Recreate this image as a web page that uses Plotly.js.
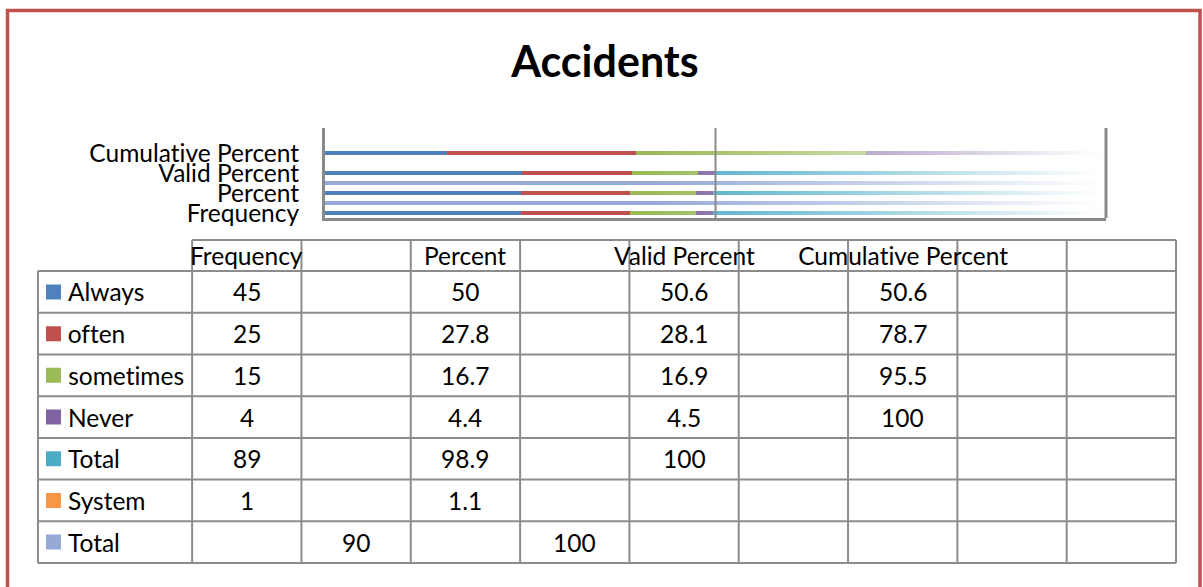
<!DOCTYPE html>
<html>
<head>
<meta charset="utf-8">
<script src="https://cdn.plot.ly/plotly-3.0.1.min.js"></script>
<style>html,body{margin:0;padding:0;background:#fff;}#chart{width:1203px;height:587px;}
#chart text{font-variant-ligatures:none;font-feature-settings:"liga" 0;}</style>
</head>
<body>
<div id="chart"></div>
<script>
// ---- data ----
const chartTitle = 'Accidents';
const categories = ['Frequency', '', 'Percent', '', 'Valid Percent', '', 'Cumulative Percent', '', ''];
const seriesNames = ['Always', 'often', 'sometimes', 'Never', 'Total', 'System', 'Total'];
const always    = [45, null, 50,   null, 50.6, null, 50.6, null, null];
const often     = [25, null, 27.8, null, 28.1, null, 78.7, null, null];
const sometimes = [15, null, 16.7, null, 16.9, null, 95.5, null, null];
const never     = [4,  null, 4.4,  null, 4.5,  null, 100,  null, null];
const total     = [89, null, 98.9, null, 100,  null, null, null, null];
const system    = [1,  null, 1.1,  null, null, null, null, null, null];
const grandTotal= [null, 90, null, 100,  null, null, null, null, null];
const seriesValues = [always, often, sometimes, never, total, system, grandTotal];

// ---- styles ----
const colors = ['#4F81BD', '#C0504D', '#9BBB59', '#8064A2', '#4BACC6', '#F79646', '#95ABD6'];
const FONT = 'Lato, "Liberation Sans", Arial, sans-serif';
const FS = 24.5;
const gridCol = '#8C8C8C';

const idx = categories.map((_, i) => i);
const traces = seriesValues.map((vals, s) => ({
  type: 'bar', orientation: 'h',
  x: vals, y: idx, name: seriesNames[s],
  marker: {color: colors[s], line: {width: 0}},
  width: 0.36, hoverinfo: 'skip', showlegend: false,
  xaxis: 'x', yaxis: 'y'
}));

const tickIdx = idx.filter(i => categories[i] !== '');
const shapes = [];
const annotations = [];

// fade-out overlay for bars (Excel gradient look)
const svg = "<svg xmlns='http://www.w3.org/2000/svg' viewBox='0 0 100 10' width='100' height='10' preserveAspectRatio='none'>" +
  "<defs><linearGradient id='g' x1='0' x2='1' y1='0' y2='0'>" +
  "<stop offset='0' stop-color='white' stop-opacity='0'/>" +
  "<stop offset='0.42' stop-color='white' stop-opacity='0'/>" +
  "<stop offset='0.72' stop-color='white' stop-opacity='0.5'/>" +
  "<stop offset='0.97' stop-color='white' stop-opacity='0.96'/>" +
  "<stop offset='1' stop-color='white' stop-opacity='1'/>" +
  "</linearGradient></defs><rect x='0' y='0' width='100' height='10' fill='url(#g)'/></svg>";
const images = [{
  source: 'data:image/svg+xml;charset=utf-8,' + encodeURIComponent(svg),
  xref: 'x', yref: 'y', x: 0, y: categories.length - 0.5,
  sizex: 100, sizey: categories.length, xanchor: 'left', yanchor: 'top',
  sizing: 'stretch', layer: 'above'
}];

// mid gridline (50%) and right wall above fade
shapes.push({type: 'line', xref: 'x', yref: 'y', x0: 50, x1: 50, y0: -0.5, y1: categories.length - 0.5,
  line: {color: '#8A8A8A', width: 2}, layer: 'above'});
shapes.push({type: 'line', xref: 'x domain', yref: 'y domain', x0: 1, x1: 1, y0: 0, y1: 1,
  line: {color: '#8A8A8A', width: 3}, layer: 'above'});

// ---- data table ----
const nCols = categories.length;
const nRows = seriesNames.length;
const H = -0.745; // header top (row units)
const RH = -1.41; // row header left (column units)
for (let c = 0; c <= nCols; c++) {
  shapes.push({type: 'line', xref: 'x2', yref: 'y2', x0: c, x1: c, y0: H, y1: nRows,
    line: {color: gridCol, width: 2}, layer: 'above'});
}
shapes.push({type: 'line', xref: 'x2', yref: 'y2', x0: RH, x1: RH, y0: 0, y1: nRows,
  line: {color: gridCol, width: 2}, layer: 'above'});
shapes.push({type: 'line', xref: 'x2', yref: 'y2', x0: 0, x1: nCols, y0: H, y1: H,
  line: {color: gridCol, width: 2}, layer: 'above'});
for (let r = 0; r <= nRows; r++) {
  shapes.push({type: 'line', xref: 'x2', yref: 'y2', x0: RH, x1: nCols, y0: r, y1: r,
    line: {color: gridCol, width: 2}, layer: 'above'});
}
categories.forEach((cat, c) => {
  if (cat) annotations.push({xref: 'x2', yref: 'y2', x: c + 0.5, y: H / 2, text: cat, showarrow: false,
    xanchor: 'center', yanchor: 'middle', font: {family: FONT, size: FS, color: '#000'}});
});
seriesNames.forEach((name, r) => {
  shapes.push({type: 'rect', xref: 'x2', yref: 'y2', xsizemode: 'pixel', ysizemode: 'pixel',
    xanchor: RH, yanchor: r + 0.5, x0: 8, x1: 23, y0: -7.5, y1: 7.5,
    fillcolor: colors[r], line: {width: 0}, layer: 'above'});
  annotations.push({xref: 'x2', yref: 'y2', x: RH, xshift: 28, y: r + 0.5, text: name, showarrow: false,
    xanchor: 'left', yanchor: 'middle', font: {family: FONT, size: FS, color: '#000'}});
  seriesValues[r].forEach((v, c) => {
    if (v !== null) annotations.push({xref: 'x2', yref: 'y2', x: c + 0.5, y: r + 0.5, text: String(v),
      showarrow: false, xanchor: 'center', yanchor: 'middle', font: {family: FONT, size: FS, color: '#000'}});
  });
});

// outer border
shapes.push({type: 'rect', xref: 'paper', yref: 'paper', x0: 7.5 / 1203, x1: 1200 / 1203, y0: -0.05, y1: 1 - 10.5 / 587,
  line: {color: '#C0504D', width: 3.5}, fillcolor: 'rgba(0,0,0,0)', layer: 'above'});

const layout = {
  width: 1203, height: 587,
  margin: {l: 0, r: 0, t: 0, b: 0, pad: 0},
  paper_bgcolor: '#fff', plot_bgcolor: 'rgba(0,0,0,0)',
  font: {family: FONT, color: '#000'},
  title: {text: '<b>' + chartTitle + '</b>', x: 605 / 1203, xanchor: 'center', y: 1 - 62 / 587, yanchor: 'middle',
    xref: 'paper', yref: 'paper', font: {family: FONT, size: 43, color: '#000'}},
  barmode: 'stack', barnorm: 'percent',
  showlegend: false,
  xaxis: {domain: [325 / 1203, 1106 / 1203], range: [0, 100], showticklabels: false, ticks: '',
    showgrid: false, zeroline: false, showline: true, linecolor: '#8A8A8A', linewidth: 3, mirror: false,
    fixedrange: true},
  yaxis: {domain: [1 - 218 / 587, 1 - 128 / 587], range: [-0.5, categories.length - 0.5],
    tickvals: tickIdx, ticktext: tickIdx.map(i => categories[i]), ticks: '', ticklabelstandoff: 18,
    tickfont: {family: FONT, size: FS, color: '#000'}, showgrid: false, zeroline: false,
    showline: true, linecolor: '#8A8A8A', linewidth: 3, mirror: false, fixedrange: true},
  xaxis2: {domain: [34.7 / 1203, 1179.3 / 1203], range: [-1.44, 9.03], visible: false, fixedrange: true, anchor: 'y2'},
  yaxis2: {domain: [1 - 566.3 / 587, 1 - 236.7 / 587], range: [7.08, -0.825], visible: false, fixedrange: true, anchor: 'x2'},
  shapes: shapes, annotations: annotations, images: images
};

Plotly.newPlot('chart', traces, layout, {staticPlot: true, displayModeBar: false});
</script>
</body>
</html>
